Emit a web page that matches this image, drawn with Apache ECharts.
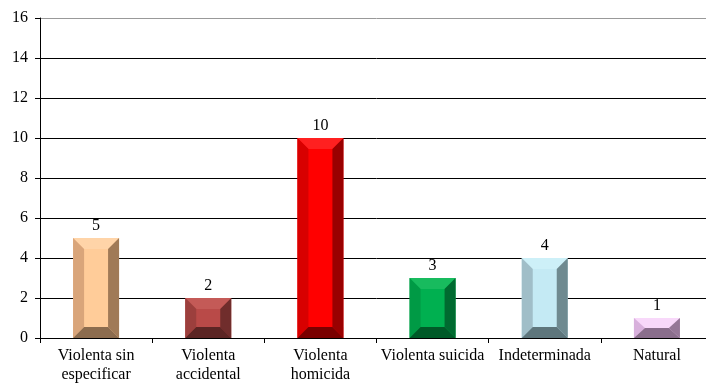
<!DOCTYPE html>
<html>
<head>
<meta charset="utf-8">
<script src="https://cdn.jsdelivr.net/npm/echarts@6/dist/echarts.min.js"></script>
<style>
  html, body { margin: 0; padding: 0; background: #fff; overflow: hidden; }
  #chart { width: 720px; height: 384px; }
</style>
</head>
<body>
<div id="chart"></div>
<script>
// categorias y valores
var categorias = ['Violenta sin\nespecificar', 'Violenta\naccidental', 'Violenta\nhomicida',
                  'Violenta suicida', 'Indeterminada', 'Natural'];
var valores = [5, 2, 10, 3, 4, 1];
var yTicks = [0, 2, 4, 6, 8, 10, 12, 14, 16];

// colores del bisel: cara, arriba, izquierda, derecha, abajo
var colores = [
    ['#ffcc99', '#ffd4a8', '#d9a57a', '#a07a57', '#8c6c4e'],
    ['#b94a48', '#c45a57', '#9c3f3d', '#702d2c', '#5c2524'],
    ['#ff0000', '#ff2020', '#d80000', '#990000', '#7a0000'],
    ['#00b050', '#18bb5e', '#009a45', '#006a30', '#005a28'],
    ['#c4eaf4', '#cdf0f8', '#a0bec8', '#6f8a90', '#5e767c'],
    ['#f2ccf4', '#f8d8fa', '#d8b0dc', '#957797', '#8a6e8c']
];

var fuente = '"Liberation Serif", "Times New Roman", serif';

function renderBar(params, api) {
    var idx = api.value(0);
    var val = api.value(1);
    var top = api.coord([idx, val]);
    var base = api.coord([idx, 0]);
    var bw = api.size([1, 0])[0] * 0.41;
    var x0 = top[0] - bw / 2, x1 = top[0] + bw / 2;
    var y0 = top[1], y1 = base[1];
    var dh = Math.min(11, bw / 2);
    var dv = Math.min(11, (y1 - y0) / 2);
    var c = colores[idx];
    function poly(pts, color) {
        return { type: 'polygon', shape: { points: pts }, style: { fill: color } };
    }
    return {
        type: 'group',
        children: [
            { type: 'rect', shape: { x: x0, y: y0, width: x1 - x0, height: y1 - y0 },
              style: { fill: c[0] } },
            poly([[x0, y0], [x1, y0], [x1 - dh, y0 + dv], [x0 + dh, y0 + dv]], c[1]),
            poly([[x0, y0], [x0 + dh, y0 + dv], [x0 + dh, y1 - dv], [x0, y1]], c[2]),
            poly([[x1, y0], [x1 - dh, y0 + dv], [x1 - dh, y1 - dv], [x1, y1]], c[3]),
            poly([[x0, y1], [x1, y1], [x1 - dh, y1 - dv], [x0 + dh, y1 - dv]], c[4]),
            { type: 'text', x: top[0], y: y0 - 4,
              style: { text: String(val), fill: '#000', align: 'center', verticalAlign: 'bottom',
                       font: '16px ' + fuente } }
        ]
    };
}

var chart = echarts.init(document.getElementById('chart'));
var option = {
    animation: false,
    grid: { left: 40, top: 18, width: 673, height: 320 },
    xAxis: {
        type: 'category',
        data: categorias,
        axisLine: { lineStyle: { color: '#000', width: 1 } },
        axisTick: { show: true, length: 5, lineStyle: { color: '#000' } },
        axisLabel: {
            color: '#000', fontSize: 16, lineHeight: 19, margin: 8,
            fontFamily: fuente, interval: 0
        }
    },
    yAxis: {
        type: 'value',
        min: yTicks[0], max: yTicks[yTicks.length - 1], interval: 2,
        axisLine: { show: true, lineStyle: { color: '#000' } },
        axisTick: { show: true, length: 5, lineStyle: { color: '#000' } },
        axisLabel: { color: '#000', fontSize: 16, margin: 12, fontFamily: fuente },
        splitLine: { show: true, lineStyle: { color: ['#000', '#000', '#000', '#000', '#000', '#000', '#000', '#000', '#999'], width: 1 } }
    },
    series: [{
        type: 'custom',
        renderItem: renderBar,
        encode: { x: 0, y: 1 },
        data: valores.map(function (v, i) { return [i, v]; })
    }]
};
chart.setOption(option);
</script>
</body>
</html>
